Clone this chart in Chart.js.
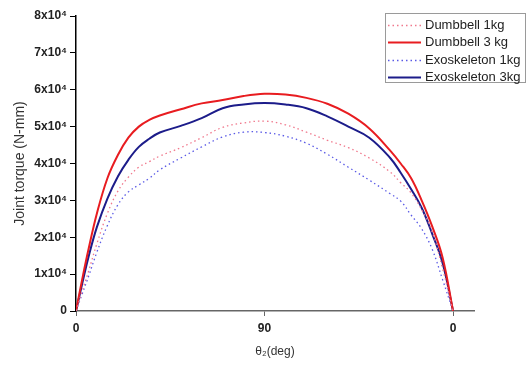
<!DOCTYPE html>
<html lang="en">
<head>
    <meta charset="UTF-8">
    <title>Joint torque</title>
    <script src="https://cdn.jsdelivr.net/npm/chart.js"></script>
    <style>
        html, body { margin: 0; padding: 0; background: #fff; }
        #wrap { width: 529px; height: 367px; }
    </style>
</head>
<body>

<div id="wrap"><canvas id="torqueChart" width="529" height="367"></canvas></div>

<script>
    // elbow angle samples (deg), 0 -> 90 -> back to 0 drawn as 0..180
    const angles = [0, 3, 6, 10, 15, 20, 25, 30, 35, 40, 50, 60, 70, 80, 90,
                    100, 110, 120, 130, 140, 150, 155, 160, 165, 170, 175, 180];

    // joint torque in N-mm
    const dumbbell1kg = [0, 5500, 10800, 18300, 26500, 32500, 36300, 39000, 40500, 42000, 44300, 47000, 49800, 51000, 51500,
                         50500, 48500, 46300, 44300, 41500, 37700, 34800, 32000, 27500, 21500, 11500, 0];
    const dumbbell3kg = [0, 8700, 16800, 26500, 36000, 42300, 47000, 50000, 51800, 53000, 54700, 56300, 57200, 58300, 58900,
                         58700, 57800, 56200, 53500, 49500, 43500, 40000, 36000, 30000, 23000, 14500, 0];
    const exo1kg = [0, 4700, 9400, 16000, 23200, 28800, 32300, 34200, 36000, 38300, 41500, 44500, 47200, 48500, 48400,
                    47400, 45500, 42500, 39000, 35500, 31800, 29800, 26000, 22300, 16800, 8500, 0];
    const exo3kg = [0, 7500, 14700, 22800, 30500, 36500, 41000, 44500, 46700, 48400, 50200, 52300, 55000, 56000, 56400,
                    56000, 55000, 52800, 50000, 47000, 41500, 37500, 33000, 28000, 21000, 13000, 0];

    const seriesNames = ['Dumbbell 1kg', 'Dumbbell 3 kg', 'Exoskeleton 1kg', 'Exoskeleton 3kg'];

    const xTickValues = [0, 90, 180];
    const xTickLabels = ['0', '90', '0'];
    const yTickValues = [0, 10000, 20000, 30000, 40000, 50000, 60000, 70000, 80000];

    const toPoints = arr => arr.map((v, i) => ({ x: angles[i], y: v }));

    // legend drawn in a framed box at the top right
    const boxLegend = {
        id: 'boxLegend',
        afterDraw(chart) {
            const ctx = chart.ctx;
            const left = 385, top = 13, right = 525, bottom = 82;
            const rows = [25, 42, 60, 77];
            ctx.save();
            ctx.strokeStyle = '#9a9a9a';
            ctx.lineWidth = 1;
            ctx.strokeRect(left + 0.5, top + 0.5, right - left, bottom - top);
            ctx.font = '13px "Liberation Sans", Arial, sans-serif';
            ctx.textBaseline = 'middle';
            chart.data.datasets.forEach((ds, i) => {
                const y = rows[i];
                ctx.beginPath();
                ctx.strokeStyle = ds.borderColor;
                ctx.lineWidth = ds.borderWidth;
                ctx.setLineDash(ds.borderDash || []);
                ctx.moveTo(388, y + 0.5);
                ctx.lineTo(421, y + 0.5);
                ctx.stroke();
                ctx.setLineDash([]);
                ctx.fillStyle = '#222';
                ctx.fillText(ds.label, 425, y);
            });
            ctx.restore();
        }
    };

    Chart.defaults.font.family = '"Liberation Sans", Arial, sans-serif';
    Chart.defaults.color = '#222';

    const ctx = document.getElementById('torqueChart').getContext('2d');
    new Chart(ctx, {
        type: 'line',
        data: {
            datasets: [{
                label: seriesNames[0],
                data: toPoints(dumbbell1kg),
                borderColor: 'rgb(240,120,140)',
                borderWidth: 1.3,
                borderDash: [1.5, 3]
            }, {
                label: seriesNames[1],
                data: toPoints(dumbbell3kg),
                borderColor: 'rgb(232,28,32)',
                borderWidth: 2
            }, {
                label: seriesNames[2],
                data: toPoints(exo1kg),
                borderColor: 'rgb(90,90,230)',
                borderWidth: 1.3,
                borderDash: [1.5, 3]
            }, {
                label: seriesNames[3],
                data: toPoints(exo3kg),
                borderColor: 'rgb(28,28,138)',
                borderWidth: 2
            }]
        },
        options: {
            responsive: false,
            animation: false,
            elements: { point: { radius: 0 }, line: { tension: 0.4 } },
            layout: { padding: { top: 16, right: 55, left: 0, bottom: 0 } },
            plugins: {
                legend: { display: false },
                tooltip: { enabled: false }
            },
            scales: {
                x: {
                    type: 'linear',
                    min: 0,
                    max: 190,
                    afterBuildTicks: scale => { scale.ticks = xTickValues.map(v => ({ value: v })); },
                    afterFit: scale => { scale.height = 56; },
                    grid: { drawOnChartArea: false, drawTicks: true, tickLength: 5, color: '#666' },
                    border: { display: true, color: '#666', width: 1.5 },
                    ticks: {
                        padding: 5,
                        maxRotation: 0,
                        font: { size: 12, weight: 'bold' },
                        callback: (v, i) => xTickLabels[i]
                    },
                    title: {
                        display: true,
                        text: 'θ₂(deg)',
                        font: { size: 12 },
                        color: '#333',
                        padding: { top: 0, bottom: 8 }
                    }
                },
                y: {
                    min: 0,
                    max: 80000,
                    afterBuildTicks: scale => { scale.ticks = yTickValues.map(v => ({ value: v })); },
                    afterFit: scale => { scale.width = 76; },
                    grid: { drawOnChartArea: false, drawTicks: true, tickLength: 6, color: '#000' },
                    border: { display: true, color: '#000', width: 1.5 },
                    ticks: {
                        padding: 3,
                        font: { size: 12, weight: 'bold' },
                        callback: v => v === 0 ? '0' : (v / 10000) + 'x10⁴'
                    },
                    title: {
                        display: true,
                        text: 'Joint torque (N-mm)',
                        font: { size: 14 },
                        color: '#333',
                        padding: { top: 12, bottom: 0 }
                    }
                }
            }
        },
        plugins: [boxLegend]
    });
</script>

</body>
</html>
